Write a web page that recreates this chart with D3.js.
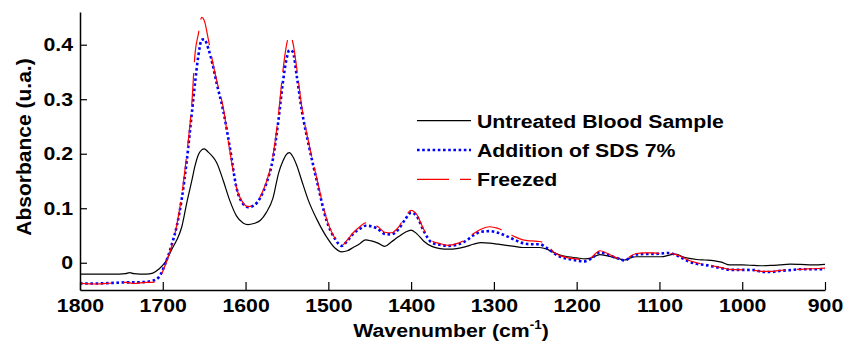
<!DOCTYPE html>
<html>
<head>
<meta charset="utf-8">
<script src="https://cdn.jsdelivr.net/npm/d3@7"></script>
<style>
  body { margin: 0; background: #fff; }
  text { font-family: "Liberation Sans", Arial, Helvetica, sans-serif; font-weight: bold; fill: #000; }
</style>
</head>
<body>
<script>
// wavenumber grid (cm-1), shared by the three spectra
var wavenumbers = [1800, 1780, 1760, 1745, 1740, 1735, 1720, 1712, 1705, 1697, 1689, 1683, 1677, 1671, 1665, 1661,
	1657, 1653, 1650, 1645, 1640, 1635, 1627, 1619, 1611, 1603, 1597, 1590, 1582, 1575, 1567, 1560, 1555, 1551,
	1547, 1543, 1538, 1532, 1524, 1514, 1502, 1492, 1484, 1477, 1470, 1462, 1455, 1448, 1440, 1432, 1424, 1415,
	1407, 1400, 1393, 1385, 1375, 1365, 1355, 1345, 1335, 1325, 1315, 1305, 1295, 1285, 1275, 1265, 1255, 1245,
	1236, 1228, 1220, 1210, 1200, 1190, 1182, 1172, 1164, 1156, 1148, 1142, 1135, 1128, 1118, 1108, 1098, 1088,
	1080, 1072, 1064, 1055, 1045, 1035, 1025, 1015, 1000, 985, 975, 965, 955, 942, 930, 915, 900];

var untreated = [-0.021, -0.021, -0.021, -0.020, -0.018, -0.020, -0.021, -0.019, -0.012, 0.001, 0.025, 0.042,
	0.066, 0.110, 0.150, 0.178, 0.198, 0.207, 0.209, 0.203, 0.195, 0.184, 0.151, 0.114, 0.086, 0.073, 0.070, 0.072,
	0.078, 0.092, 0.118, 0.165, 0.186, 0.198, 0.202, 0.195, 0.178, 0.150, 0.114, 0.080, 0.047, 0.027, 0.020, 0.022,
	0.028, 0.035, 0.042, 0.040, 0.036, 0.030, 0.038, 0.048, 0.056, 0.060, 0.053, 0.040, 0.030, 0.026, 0.025, 0.026,
	0.029, 0.034, 0.037, 0.036, 0.034, 0.032, 0.030, 0.028, 0.028, 0.028, 0.025, 0.019, 0.014, 0.011, 0.009, 0.007,
	0.009, 0.015, 0.013, 0.010, 0.007, 0.005, 0.009, 0.011, 0.011, 0.011, 0.011, 0.014, 0.016, 0.011, 0.008, 0.006,
	0.005, 0.004, 0.001, -0.004, -0.004, -0.005, -0.0055, -0.005, -0.004, -0.0025, -0.003, -0.004, -0.003];

var sds7 = [-0.038, -0.038, -0.037, -0.036, -0.036, -0.036, -0.035, -0.033, -0.027, -0.002, 0.034, 0.068,
	0.118, 0.1875, 0.273, 0.330, 0.380, 0.409, 0.410, 0.393, 0.365, 0.330, 0.279, 0.212, 0.138, 0.108, 0.102, 0.105,
	0.120, 0.145, 0.190, 0.265, 0.330, 0.370, 0.390, 0.387, 0.341, 0.279, 0.218, 0.151, 0.077, 0.044, 0.031, 0.040,
	0.053, 0.062, 0.068, 0.067, 0.062, 0.053, 0.052, 0.062, 0.080, 0.092, 0.085, 0.059, 0.037, 0.033, 0.031, 0.033,
	0.039, 0.050, 0.057, 0.058, 0.055, 0.049, 0.042, 0.036, 0.034, 0.034, 0.027, 0.018, 0.011, 0.007, 0.004, 0.0025,
	0.008, 0.019, 0.016, 0.011, 0.007, 0.004, 0.010, 0.015, 0.016, 0.016, 0.017, 0.018, 0.014, 0.008, 0.002, -0.002,
	-0.004, -0.007, -0.010, -0.013, -0.013, -0.0135, -0.017, -0.017, -0.015, -0.0135, -0.012, -0.012, -0.0115];

var freezed = [-0.038, -0.039, -0.037, -0.036, -0.037, -0.038, -0.036, -0.036, -0.030, -0.004, 0.032, 0.070,
	0.125, 0.200, 0.290, 0.384, 0.420, 0.450, 0.445, 0.410, 0.370, 0.335, 0.285, 0.205, 0.138, 0.110, 0.103, 0.106,
	0.122, 0.148, 0.195, 0.275, 0.350, 0.395, 0.417, 0.405, 0.355, 0.285, 0.222, 0.155, 0.080, 0.045, 0.032, 0.042,
	0.055, 0.066, 0.073, 0.072, 0.066, 0.056, 0.055, 0.066, 0.085, 0.096, 0.088, 0.062, 0.040, 0.035, 0.032, 0.035,
	0.042, 0.053, 0.062, 0.066, 0.063, 0.056, 0.048, 0.042, 0.040, 0.039, 0.033, 0.020, 0.013, 0.009, 0.007, 0.005,
	0.010, 0.022, 0.018, 0.012, 0.007, 0.005, 0.012, 0.017, 0.018, 0.018, 0.017, 0.017, 0.015, 0.010, 0.004, 0.000,
	-0.003, -0.006, -0.009, -0.012, -0.013, -0.014, -0.016, -0.016, -0.014, -0.013, -0.012, -0.011, -0.010];

var seriesNames = ["Untreated Blood Sample", "Addition of SDS 7%", "Freezed"];
var xTicks = [1800, 1700, 1600, 1500, 1400, 1300, 1200, 1100, 1000, 900];
var yTicks = [0, 0.1, 0.2, 0.3, 0.4];

var width = 856, height = 351;
var SX = 1.12; // glyphs in the picture are a bit wide
var FS = 19;

var svg = d3.select("body").append("svg")
	.attr("width", width)
	.attr("height", height);

var x = d3.scaleLinear().domain([1800, 900]).range([80, 825]);
var y = d3.scaleLinear().domain([-0.05, 0.46]).range([290, 12]);

var styles = [
	{ color: "#000000", w: 1.2, dash: null },
	{ color: "#0000ff", w: 2.6, dash: "2.6,2.6" },
	{ color: "#ff0000", w: 1.2, dash: "32,11" }
];
var series = [untreated, sds7, freezed];

var line = d3.line()
	.x(function(d) { return x(d[0]); })
	.y(function(d) { return y(d[1]); })
	.curve(d3.curveMonotoneX);

for (var i = 0; i < series.length; i++) {
	var pts = wavenumbers.map(function(w, j) { return [w, series[i][j]]; });
	svg.append("path")
		.datum(pts)
		.attr("fill", "none")
		.attr("stroke", styles[i].color)
		.attr("stroke-width", styles[i].w)
		.attr("stroke-dasharray", styles[i].dash)
		.attr("d", line);
}

// axes
var xAxis = svg.append("g")
	.attr("transform", "translate(0,290)")
	.call(d3.axisBottom(x).tickValues(xTicks).tickSize(-8).tickSizeOuter(0).tickPadding(9).tickFormat(d3.format("d")));
var yAxis = svg.append("g")
	.attr("transform", "translate(80,0)")
	.call(d3.axisLeft(y).tickValues(yTicks).tickSize(-7).tickSizeOuter(0).tickPadding(7)
		.tickFormat(function(v) { return v === 0 ? "0" : v.toFixed(1); }));

[xAxis, yAxis].forEach(function(g) {
	g.select(".domain").attr("stroke", "#000").attr("stroke-width", 1.5);
	g.selectAll(".tick line").attr("stroke", "#000").attr("stroke-width", 1.2);
	g.selectAll(".tick text")
		.attr("font-size", FS)
		.attr("font-family", "Liberation Sans, Arial, sans-serif")
		.attr("font-weight", "bold")
		.attr("fill", "#000");
});
xAxis.selectAll(".tick text").attr("transform", "scale(" + SX + ",1)");
yAxis.selectAll(".tick text").attr("transform", "scale(" + SX + ",1)").attr("x", -7 / SX);

// axis titles
var xl = svg.append("text")
	.attr("transform", "translate(451,337) scale(" + SX + ",1)")
	.attr("text-anchor", "middle")
	.attr("font-size", FS);
xl.append("tspan").text("Wavenumber (cm");
xl.append("tspan").attr("font-size", 12).attr("dy", -8).text("-1");
xl.append("tspan").attr("dy", 8).text(")");

svg.append("text")
	.attr("transform", "translate(31,147) rotate(-90)")
	.attr("text-anchor", "middle")
	.attr("font-size", 21)
	.text("Absorbance (u.a.)");

// legend
var legend = svg.append("g");
for (var k = 0; k < seriesNames.length; k++) {
	var ly = 120.7 + k * 29.3;
	legend.append("line")
		.attr("x1", 417).attr("x2", 471)
		.attr("y1", ly).attr("y2", ly)
		.attr("stroke", styles[k].color)
		.attr("stroke-width", styles[k].w)
		.attr("stroke-dasharray", styles[k].dash);
	legend.append("text")
		.attr("transform", "translate(477," + (ly + 6.8) + ") scale(" + SX + ",1)")
		.attr("font-size", FS)
		.text(seriesNames[k]);
}
</script>
</body>
</html>
